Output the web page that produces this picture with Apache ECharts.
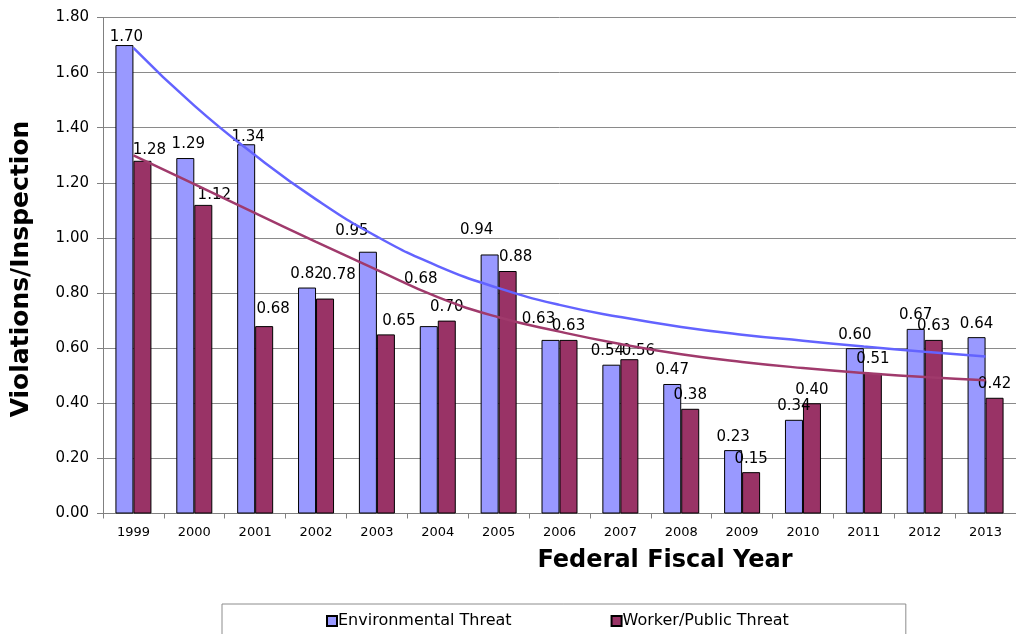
<!DOCTYPE html>
<html>
<head>
<meta charset="utf-8">
<title>Violations per Inspection by Federal Fiscal Year</title>
<script src="https://cdn.jsdelivr.net/npm/echarts@6/dist/echarts.min.js"></script>
<style>
  html, body { margin: 0; padding: 0; background: #ffffff; }
  #chart { width: 1016px; height: 634px; }
</style>
</head>
<body>
<div id="chart"></div>
<script>
// Fiscal years on the category axis
const years = ['1999', '2000', '2001', '2002', '2003', '2004', '2005', '2006',
               '2007', '2008', '2009', '2010', '2011', '2012', '2013'];

// Violations per inspection
const environmentalThreat = [1.70, 1.29, 1.34, 0.82, 0.95, 0.68, 0.94, 0.63,
                             0.54, 0.47, 0.23, 0.34, 0.60, 0.67, 0.64];
const workerPublicThreat  = [1.28, 1.12, 0.68, 0.78, 0.65, 0.70, 0.88, 0.63,
                             0.56, 0.38, 0.15, 0.40, 0.51, 0.63, 0.42];

// Trend curves, sampled at each fiscal year
const environmentalTrend = [1.69, 1.48, 1.30, 1.14, 1.005, 0.898, 0.818, 0.757,
                            0.713, 0.677, 0.649, 0.627, 0.606, 0.587, 0.57];
const workerPublicTrend  = [1.30, 1.195, 1.09, 0.986, 0.884, 0.785, 0.712, 0.66,
                            0.615, 0.578, 0.55, 0.528, 0.51, 0.495, 0.484];

// Hand-placed value labels (pixel nudges) where labels were moved apart
const labelNudge = {
  env: { '1999': [2, 6], '2000': [3, 0], '2001': [2, 6], '2003': [-16, -7],
         '2004': [-8, -34], '2005': [-13, -11], '2006': [-12, -7], '2007': [-4, 0] },
  worker: { '1999': [7, 3], '2000': [11, 4], '2001': [9, -4], '2002': [14, -10],
            '2003': [13, 0], '2005': [8, 0], '2007': [9, 5] }
};

const FONT = '"DejaVu Sans", "Liberation Sans", Arial, sans-serif';

function barItems(values, nudges) {
  return values.map((v, i) => {
    const n = nudges[years[i]];
    const item = { value: v };
    if (n) item.label = { offset: n };
    return item;
  });
}

const barLabel = {
  show: true,
  position: 'top',
  distance: 6,
  color: '#000000',
  fontFamily: FONT,
  fontSize: 15,
  formatter: p => Number(p.value).toFixed(2)
};

const chart = echarts.init(document.getElementById('chart'), null, { renderer: 'canvas' });

chart.setOption({
  backgroundColor: '#ffffff',
  animation: false,
  textStyle: { fontFamily: FONT },
  grid: { left: 103, top: 17.5, width: 921, height: 496, containLabel: false },
  legend: {
    data: ['Environmental Threat', 'Worker/Public Threat'],
    left: 222,
    top: 604,
    padding: [9, 117, 20, 104],
    itemGap: 99,
    itemWidth: 10,
    itemHeight: 10,
    icon: 'rect',
    borderColor: '#8c8c8c',
    borderWidth: 1,
    textStyle: { fontFamily: FONT, fontSize: 16, color: '#000000', padding: [0, 0, 0, -4] }
  },
  xAxis: {
    type: 'category',
    data: years,
    boundaryGap: true,
    axisLine: { show: true, lineStyle: { color: '#808080', width: 1 } },
    axisTick: { show: true, inside: false, length: 5, alignWithLabel: false,
                lineStyle: { color: '#808080' } },
    axisLabel: { color: '#000000', fontFamily: FONT, fontSize: 13, margin: 13 },
    splitLine: { show: false }
  },
  yAxis: {
    type: 'value',
    min: 0,
    max: 1.8,
    interval: 0.2,
    axisLine: { show: true, lineStyle: { color: '#808080', width: 1 } },
    axisTick: { show: true, inside: false, length: 6, lineStyle: { color: '#808080' } },
    axisLabel: { color: '#000000', fontFamily: FONT, fontSize: 15, margin: 14,
                 formatter: v => v.toFixed(2) },
    splitLine: { show: true, lineStyle: { color: '#8a8a8a', width: 1 } }
  },
  graphic: [
    {
      type: 'text',
      x: 21, y: 269,
      rotation: Math.PI / 2,
      style: {
        text: 'Violations/Inspection',
        font: 'bold 25px ' + FONT,
        fill: '#000000',
        align: 'center',
        verticalAlign: 'middle'
      }
    },
    {
      type: 'text',
      x: 665, y: 561,
      style: {
        text: 'Federal Fiscal Year',
        font: 'bold 24px ' + FONT,
        fill: '#000000',
        align: 'center',
        verticalAlign: 'middle'
      }
    }
  ],
  series: [
    {
      name: 'Environmental Threat',
      type: 'bar',
      data: barItems(environmentalThreat, labelNudge.env),
      barWidth: 18,
      barGap: '0%',
      itemStyle: { color: '#9999FF', borderColor: '#000000', borderWidth: 1 },
      label: barLabel,
      z: 2
    },
    {
      name: 'Worker/Public Threat',
      type: 'bar',
      data: barItems(workerPublicThreat, labelNudge.worker),
      barWidth: 18,
      barGap: '0%',
      itemStyle: { color: '#993366', borderColor: '#000000', borderWidth: 1 },
      label: barLabel,
      z: 2
    },
    {
      name: 'Environmental Trend',
      type: 'line',
      data: environmentalTrend,
      smooth: 0.5,
      symbol: 'none',
      lineStyle: { color: '#6363FF', width: 2.5 },
      z: 4,
      silent: true
    },
    {
      name: 'Worker/Public Trend',
      type: 'line',
      data: workerPublicTrend,
      smooth: 0.5,
      symbol: 'none',
      lineStyle: { color: '#A03A6C', width: 2.5 },
      z: 4,
      silent: true
    }
  ]
});
</script>
</body>
</html>
